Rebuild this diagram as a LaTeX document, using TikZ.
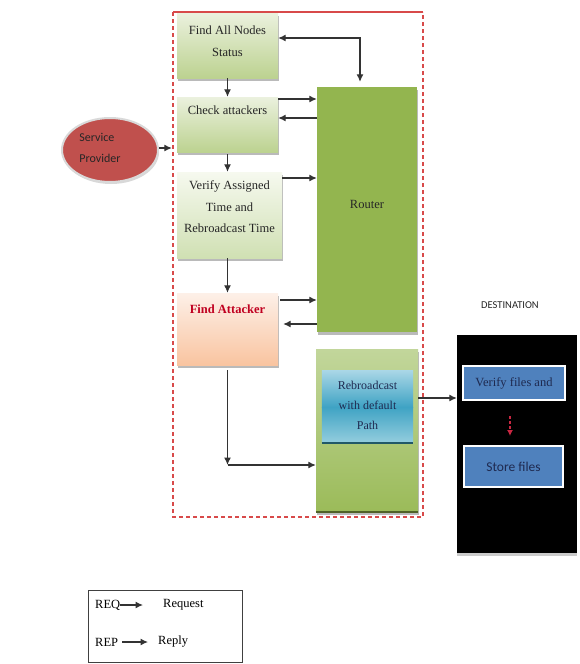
\documentclass[tikz,border=0pt]{standalone}
\usepackage{fontspec}
\setmainfont{Liberation Serif}
\newfontfamily\calfont{Carlito}
\usetikzlibrary{arrows.meta,shadows,shapes.geometric}
\definecolor{gTop}{HTML}{EBF1DE}
\definecolor{gBot}{HTML}{BCD290}
\definecolor{vTop}{HTML}{F6F9EF}
\definecolor{vBot}{HTML}{D0E0B3}
\definecolor{oTop}{HTML}{FDF0E8}
\definecolor{oBot}{HTML}{F9C4A0}
\definecolor{routerG}{HTML}{93B54F}
\definecolor{lgTop}{HTML}{C2D69B}
\definecolor{lgBot}{HTML}{9BBB59}
\definecolor{lgEdge}{HTML}{4F6228}
\definecolor{bTop}{HTML}{A8D6E6}
\definecolor{bMid}{HTML}{3FA3C4}
\definecolor{bBot}{HTML}{95CEDE}
\definecolor{bEdge}{HTML}{215868}
\definecolor{spRed}{HTML}{C0504D}
\definecolor{frameRed}{HTML}{D84A4A}
\definecolor{dBlue}{HTML}{4F81BD}
\definecolor{navy}{HTML}{1F2A50}
\definecolor{faRed}{HTML}{C00020}
\begin{document}
\begin{tikzpicture}[x=1pt,y=-1pt,
  arr/.style={draw=black!80, line width=1.2pt, -{Latex[length=7.5pt,width=7pt]}},
  darr/.style={draw=black!80, line width=1.2pt, {Latex[length=7.5pt,width=7pt]}-{Latex[length=7.5pt,width=7pt]}},
  shad/.style={drop shadow={shadow xshift=1pt, shadow yshift=-2.5pt, fill=black!45, opacity=0.6}},
  box/.style={rectangle, inner sep=0pt, shad},
  gbox/.style={box, top color=gTop, bottom color=gBot},
  txt/.style={align=center, font=\fontsize{12.5}{21.5}\selectfont, text=black!85},
  dbox/.style={rectangle, inner sep=0pt, fill=dBlue, draw=white, line width=2pt, text=navy},
]
\useasboundingbox (0,0) rectangle (579,664);
\fill[white] (0,0) rectangle (579,664);

% frame
\draw[draw=frameRed, line width=1.3pt, dash pattern=on 4pt off 3pt] (173,12) -- (173,517) -- (423,517) -- (423,12);
\draw[draw=frameRed, line width=1.8pt] (173,12) -- (423,12);

% left column
\node[gbox, minimum width=101pt, minimum height=65pt] (fan) at (227.5,45.5) {};
\node[txt] (fanT) at (227.5,41) {Find All Nodes\\Status};
\node[gbox, minimum width=101pt, minimum height=55pt] (ca) at (227.5,124.5) {};
\node[txt] (caT) at (227.5,110) {Check attackers};
\node[box, top color=vTop, bottom color=vBot, minimum width=105pt, minimum height=86pt] (va) at (229.5,215) {};
\node[txt] (vaT) at (229.5,207) {Verify Assigned\\Time and\\Rebroadcast Time};
\node[box, top color=oTop, bottom color=oBot, minimum width=101pt, minimum height=72pt] (fa) at (227.5,329) {};
\node[txt, text=faRed, font=\fontsize{12.5}{15}\selectfont\bfseries] (faT) at (227.5,309) {Find Attacker};

% right column
\node[box, fill=routerG, minimum width=100pt, minimum height=245pt] (router) at (367,209.5) {};
\node[txt] (routerT) at (367,204) {Router};
\node[box, top color=lgTop, bottom color=lgBot, minimum width=102pt, minimum height=163pt] (lg) at (367,430.5) {};
\draw[lgEdge, line width=2pt] (lg.south west) -- (lg.south east);
\node[rectangle, inner sep=0pt, minimum width=91pt, minimum height=72pt] (rb) at (367.5,407) {};
\shade[top color=bTop, bottom color=bMid] (rb.north west) rectangle (rb.east);
\shade[top color=bMid, bottom color=bBot] (rb.west) rectangle (rb.south east);
\draw[bEdge, line width=2pt] (rb.south west) -- (rb.south east);
\node[txt, font=\fontsize{12}{20}\selectfont, text=navy] (rbT) at (367.5,405) {Rebroadcast\\with default\\Path};

% service provider
\node[ellipse, fill=spRed, draw=black!15, line width=2pt, minimum width=96pt, minimum height=64pt, inner sep=0pt, drop shadow={shadow xshift=1pt, shadow yshift=-2pt, fill=black!30, opacity=0.5}] (sp) at (110,150) {};
\node[align=left, font=\calfont\fontsize{12}{21}\selectfont, text=black!85] (spT) at (100,148) {Service\\Provider};

% destination
\node[rectangle, fill=black, inner sep=0pt, minimum width=120pt, minimum height=218pt, drop shadow={shadow xshift=0pt, shadow yshift=-2.5pt, fill=black!25, opacity=0.8}] (dest) at (517,444) {};
\node[font=\calfont\fontsize{10.5}{12}\selectfont, text=black!85] (destT) at (510,305) {DESTINATION};
\node[dbox, minimum width=102pt, minimum height=34pt, font=\fontsize{12.5}{14}\selectfont] (vf) at (514,383) {Verify files and};
\node[dbox, minimum width=99pt, minimum height=41pt, font=\calfont\fontsize{13.5}{15}\selectfont] (sf) at (513.5,466.5) {Store files};
\coordinate (dA) at (510,416);
\coordinate (dB) at (510,436);
\draw[draw=faRed!85, line width=1.5pt, dash pattern=on 3pt off 2pt, -{Latex[length=6pt,width=6pt]}] (dA) -- (dB);

% connectors
\draw[darr, shorten >=5pt] (fan.east |- 0,38) -| ([xshift=-7pt]router.north);
\draw[arr] (fan.south) -- (ca.north);
\draw[arr] (ca.east |- 0,99) -- (router.west |- 0,99);
\draw[arr] (router.west |- 0,118) -- (ca.east |- 0,118);
\draw[arr] ([yshift=-2pt]ca.south) -- (ca.south |- va.north);
\draw[arr] (va.east |- 0,178) -- (router.west |- 0,178);
\draw[arr] (fa.north |- va.south) -- (fa.north);
\draw[arr] ([xshift=2pt]fa.east |- 0,300) -- (router.west |- 0,300);
\draw[arr, shorten >=5pt] (router.west |- 0,324) -- (fa.east |- 0,324);
\coordinate (cor) at (227.5,465);
\draw[arr, shorten <=5pt] (fa.south) -- (cor);
\draw[arr] (cor) -- (cor -| lg.west);
\draw[arr, shorten >=5pt] (sp.east |- 0,148) -- (ca.west |- 0,148);
\draw[arr] (lg.east |- 0,398) -- (dest.west |- 0,398);

% legend
\node[draw=black!75, line width=0.8pt, rectangle, inner sep=0pt, minimum width=154pt, minimum height=72pt] (leg) at (165,626) {};
\node[anchor=west, inner sep=0pt, font=\fontsize{12.5}{14}\selectfont] (req) at (95,605) {REQ};
\coordinate (reqE) at (143,605);
\draw[arr] (req.east) -- (reqE);
\node[anchor=west, inner sep=0pt, font=\fontsize{12.5}{14}\selectfont] (reqT) at (163,605) {Request};
\node[anchor=west, inner sep=0pt, font=\fontsize{12.5}{14}\selectfont] (rep) at (95,642) {REP};
\coordinate (repS) at (122,642);
\coordinate (repE) at (148,642);
\draw[arr] (repS) -- (repE);
\node[anchor=west, inner sep=0pt, font=\fontsize{12.5}{14}\selectfont] (repT) at (158,642) {Reply};
\end{tikzpicture}
\end{document}
